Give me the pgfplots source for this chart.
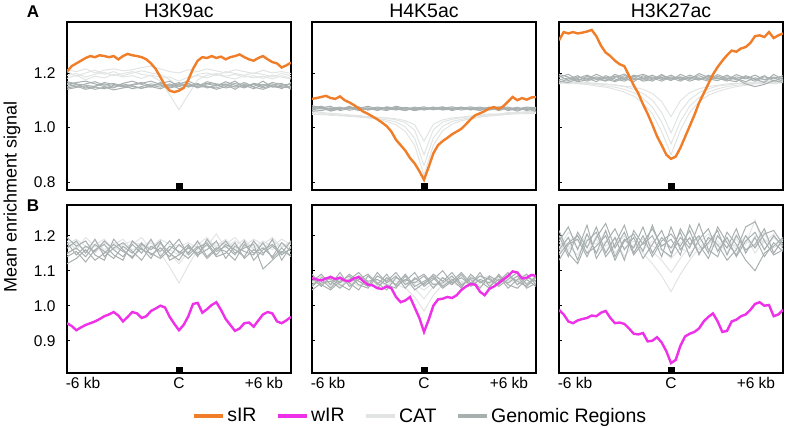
\documentclass[border=0pt]{standalone}
\usepackage{fontspec}
\setmainfont{Liberation Sans}
\usepackage{pgfplots}
\usepackage{pgfplotstable}
\pgfplotsset{compat=1.18}
\definecolor{sirc}{RGB}{240,125,40}
\definecolor{wirc}{RGB}{238,48,232}
\definecolor{catc}{RGB}{226,228,228}
\definecolor{genc}{RGB}{168,176,175}

% H3K9ac, row A
\pgfplotstableread{
x g1 g2 g3 g4 g5 g6 c1 c2 c3 c4
-6 1.150 1.162 1.145 1.158 1.168 1.140 1.190 1.205 1.180 1.212
-5.5 1.158 1.150 1.152 1.165 1.160 1.147 1.198 1.188 1.192 1.205
-5 1.145 1.160 1.140 1.170 1.155 1.152 1.185 1.200 1.175 1.215
-4.5 1.152 1.168 1.148 1.160 1.150 1.140 1.195 1.210 1.188 1.200
-4 1.160 1.155 1.142 1.150 1.165 1.148 1.202 1.195 1.182 1.210
-3.5 1.148 1.162 1.155 1.145 1.158 1.138 1.190 1.205 1.195 1.215
-3 1.155 1.150 1.160 1.162 1.148 1.145 1.198 1.190 1.185 1.208
-2.5 1.142 1.158 1.152 1.170 1.155 1.150 1.205 1.200 1.190 1.212
-2 1.150 1.165 1.145 1.158 1.162 1.143 1.195 1.208 1.180 1.220
-1.5 1.160 1.152 1.150 1.148 1.170 1.155 1.190 1.200 1.192 1.225
-1 1.155 1.160 1.142 1.165 1.158 1.148 1.170 1.195 1.185 1.215
-0.5 1.148 1.170 1.155 1.152 1.145 1.160 1.120 1.175 1.185 1.205
0 1.158 1.150 1.165 1.160 1.152 1.142 1.065 1.150 1.170 1.200
0.5 1.150 1.162 1.148 1.170 1.160 1.155 1.120 1.175 1.185 1.212
1 1.162 1.145 1.158 1.155 1.150 1.148 1.175 1.195 1.190 1.205
1.5 1.145 1.160 1.152 1.162 1.168 1.150 1.192 1.200 1.182 1.215
2 1.155 1.152 1.140 1.158 1.160 1.145 1.198 1.190 1.195 1.208
2.5 1.160 1.168 1.150 1.145 1.155 1.158 1.188 1.205 1.185 1.200
3 1.148 1.155 1.162 1.152 1.170 1.140 1.195 1.198 1.178 1.212
3.5 1.155 1.145 1.150 1.165 1.148 1.160 1.185 1.192 1.190 1.205
4 1.142 1.160 1.158 1.150 1.162 1.148 1.190 1.200 1.182 1.198
4.5 1.158 1.150 1.145 1.170 1.155 1.140 1.180 1.195 1.188 1.210
5 1.150 1.165 1.155 1.148 1.160 1.152 1.192 1.185 1.178 1.200
5.5 1.145 1.158 1.162 1.155 1.142 1.150 1.185 1.198 1.190 1.205
6 1.152 1.148 1.140 1.160 1.165 1.145 1.178 1.190 1.182 1.198
}\tAL

% H4K5ac, row A
\pgfplotstableread{
x g1 g2 g3 g4 g5 g6 c1 c2 c3 c4
-6 1.065 1.075 1.060 1.072 1.080 1.068 1.055 1.050 1.060 1.048
-5.5 1.070 1.068 1.062 1.078 1.072 1.075 1.052 1.046 1.055 1.050
-5 1.062 1.072 1.070 1.066 1.078 1.060 1.048 1.050 1.052 1.044
-4.5 1.072 1.065 1.075 1.070 1.062 1.068 1.045 1.042 1.050 1.046
-4 1.068 1.078 1.063 1.072 1.070 1.074 1.042 1.045 1.046 1.040
-3.5 1.074 1.066 1.070 1.062 1.076 1.068 1.038 1.040 1.044 1.042
-3 1.065 1.072 1.078 1.068 1.064 1.072 1.035 1.036 1.040 1.038
-2.5 1.070 1.064 1.068 1.075 1.072 1.062 1.030 1.032 1.038 1.036
-2 1.072 1.076 1.062 1.070 1.066 1.074 1.022 1.028 1.034 1.035
-1.5 1.066 1.070 1.074 1.064 1.078 1.068 1.010 1.020 1.028 1.032
-1 1.074 1.064 1.068 1.072 1.070 1.062 0.985 1.002 1.018 1.025
-0.5 1.068 1.075 1.065 1.070 1.062 1.072 0.935 0.960 0.990 1.010
0 1.072 1.066 1.070 1.076 1.068 1.064 0.825 0.860 0.900 0.950
0.5 1.065 1.074 1.072 1.066 1.075 1.070 0.935 0.962 0.992 1.012
1 1.070 1.068 1.064 1.074 1.066 1.076 0.988 1.005 1.020 1.028
1.5 1.076 1.072 1.068 1.062 1.070 1.066 1.012 1.022 1.030 1.035
2 1.068 1.064 1.075 1.070 1.074 1.072 1.025 1.030 1.036 1.038
2.5 1.072 1.070 1.066 1.076 1.064 1.068 1.032 1.036 1.040 1.042
3 1.064 1.075 1.070 1.068 1.072 1.062 1.038 1.040 1.044 1.045
3.5 1.070 1.066 1.074 1.064 1.068 1.075 1.042 1.044 1.046 1.050
4 1.074 1.072 1.062 1.070 1.076 1.066 1.045 1.046 1.050 1.048
4.5 1.066 1.068 1.072 1.075 1.062 1.070 1.048 1.050 1.052 1.055
5 1.072 1.074 1.068 1.064 1.070 1.060 1.050 1.054 1.055 1.052
5.5 1.068 1.062 1.075 1.070 1.066 1.072 1.052 1.050 1.058 1.055
6 1.064 1.070 1.072 1.058 1.074 1.068 1.055 1.052 1.060 1.058
}\tAM

% H3K27ac, row A
\pgfplotstableread{
x g1 g2 g3 g4 g5 g6 c1 c2 c3 c4
-6 1.175 1.190 1.165 1.185 1.170 1.195 1.170 1.160 1.175 1.165
-5.5 1.182 1.172 1.178 1.195 1.165 1.185 1.165 1.168 1.170 1.160
-5 1.170 1.185 1.190 1.175 1.180 1.168 1.160 1.162 1.168 1.166
-4.5 1.188 1.178 1.170 1.182 1.192 1.175 1.158 1.160 1.165 1.162
-4 1.176 1.195 1.182 1.168 1.178 1.186 1.152 1.158 1.162 1.160
-3.5 1.185 1.180 1.172 1.190 1.170 1.178 1.148 1.152 1.160 1.158
-3 1.172 1.188 1.195 1.178 1.184 1.168 1.140 1.148 1.155 1.156
-2.5 1.190 1.175 1.180 1.170 1.196 1.182 1.130 1.140 1.150 1.152
-2 1.180 1.192 1.168 1.186 1.175 1.188 1.115 1.128 1.140 1.148
-1.5 1.174 1.182 1.190 1.195 1.180 1.170 1.090 1.108 1.125 1.140
-1 1.186 1.170 1.178 1.182 1.192 1.176 1.050 1.075 1.100 1.125
-0.5 1.178 1.190 1.184 1.170 1.176 1.195 0.985 1.020 1.055 1.095
0 1.192 1.180 1.172 1.186 1.182 1.174 0.900 0.940 0.980 1.040
0.5 1.175 1.186 1.195 1.178 1.170 1.184 0.990 1.022 1.058 1.098
1 1.182 1.176 1.180 1.192 1.186 1.170 1.055 1.078 1.102 1.128
1.5 1.190 1.198 1.174 1.180 1.175 1.182 1.095 1.110 1.128 1.142
2 1.178 1.184 1.188 1.170 1.192 1.176 1.118 1.130 1.142 1.150
2.5 1.172 1.178 1.182 1.188 1.180 1.194 1.132 1.142 1.152 1.155
3 1.186 1.192 1.170 1.176 1.174 1.180 1.142 1.150 1.156 1.160
3.5 1.180 1.174 1.186 1.194 1.168 1.178 1.150 1.155 1.160 1.162
4 1.168 1.186 1.178 1.182 1.190 1.160 1.155 1.158 1.165 1.160
4.5 1.182 1.176 1.192 1.170 1.178 1.150 1.160 1.162 1.166 1.165
5 1.176 1.190 1.175 1.186 1.165 1.158 1.162 1.165 1.170 1.168
5.5 1.185 1.170 1.182 1.178 1.195 1.172 1.165 1.160 1.172 1.170
6 1.178 1.184 1.170 1.190 1.175 1.165 1.168 1.165 1.175 1.172
}\tAR

% H3K9ac, row B
\pgfplotstableread{
x g1 g2 g3 g4 g5 g6 c1 c2 c3 c4
-6 1.150 1.180 1.120 1.165 1.140 1.195 1.165 1.185 1.145 1.175
-5.5 1.165 1.145 1.135 1.185 1.155 1.170 1.180 1.160 1.170 1.190
-5 1.140 1.170 1.160 1.150 1.125 1.185 1.155 1.195 1.165 1.170
-4.5 1.175 1.155 1.130 1.190 1.160 1.145 1.175 1.170 1.185 1.150
-4 1.155 1.185 1.150 1.140 1.175 1.130 1.190 1.150 1.160 1.180
-3.5 1.135 1.160 1.175 1.165 1.145 1.190 1.160 1.180 1.175 1.165
-3 1.170 1.140 1.155 1.180 1.130 1.160 1.175 1.165 1.190 1.155
-2.5 1.150 1.175 1.140 1.155 1.185 1.135 1.185 1.175 1.160 1.180
-2 1.180 1.150 1.165 1.130 1.160 1.175 1.165 1.195 1.170 1.175
-1.5 1.145 1.190 1.135 1.170 1.150 1.160 1.180 1.160 1.185 1.165
-1 1.165 1.140 1.180 1.155 1.135 1.185 1.150 1.175 1.165 1.190
-0.5 1.140 1.170 1.150 1.185 1.160 1.130 1.110 1.150 1.160 1.175
0 1.175 1.155 1.130 1.150 1.190 1.145 1.065 1.120 1.145 1.170
0.5 1.150 1.135 1.170 1.175 1.145 1.165 1.115 1.155 1.165 1.180
1 1.185 1.165 1.145 1.140 1.170 1.150 1.160 1.180 1.175 1.165
1.5 1.140 1.180 1.160 1.190 1.135 1.175 1.185 1.170 1.195 1.160
2 1.165 1.145 1.185 1.155 1.160 1.140 1.170 1.205 1.165 1.180
2.5 1.155 1.175 1.135 1.170 1.185 1.150 1.190 1.165 1.180 1.175
3 1.130 1.160 1.170 1.145 1.150 1.180 1.160 1.185 1.170 1.195
3.5 1.175 1.140 1.155 1.185 1.165 1.135 1.180 1.170 1.190 1.165
4 1.150 1.185 1.145 1.130 1.175 1.160 1.165 1.190 1.160 1.180
4.5 1.165 1.150 1.180 1.160 1.105 1.145 1.185 1.175 1.175 1.165
5 1.140 1.170 1.135 1.175 1.130 1.190 1.170 1.160 1.195 1.185
5.5 1.180 1.145 1.165 1.150 1.155 1.130 1.190 1.180 1.165 1.170
6 1.155 1.165 1.140 1.185 1.145 1.170 1.175 1.165 1.185 1.180
}\tBL

% H4K5ac, row B
\pgfplotstableread{
x g1 g2 g3 g4 g5 g6 c1 c2 c3 c4
-6 1.060 1.080 1.045 1.070 1.090 1.055 1.070 1.055 1.080 1.065
-5.5 1.075 1.055 1.065 1.090 1.060 1.080 1.060 1.075 1.065 1.085
-5 1.050 1.085 1.070 1.060 1.045 1.075 1.080 1.060 1.070 1.055
-4.5 1.080 1.065 1.050 1.095 1.070 1.060 1.065 1.085 1.055 1.075
-4 1.065 1.090 1.075 1.055 1.085 1.045 1.075 1.065 1.080 1.060
-3.5 1.045 1.070 1.095 1.075 1.060 1.085 1.055 1.080 1.070 1.085
-3 1.085 1.055 1.065 1.090 1.050 1.070 1.085 1.060 1.065 1.070
-2.5 1.060 1.095 1.050 1.065 1.085 1.075 1.065 1.075 1.085 1.055
-2 1.090 1.065 1.080 1.045 1.070 1.060 1.075 1.055 1.070 1.080
-1.5 1.055 1.085 1.060 1.080 1.095 1.050 1.060 1.080 1.060 1.070
-1 1.075 1.050 1.090 1.070 1.060 1.085 1.050 1.065 1.075 1.065
-0.5 1.065 1.080 1.055 1.095 1.075 1.045 1.025 1.050 1.060 1.070
0 1.085 1.060 1.070 1.055 1.090 1.065 0.985 1.020 1.045 1.060
0.5 1.050 1.090 1.085 1.075 1.060 1.080 1.030 1.055 1.065 1.075
1 1.080 1.070 1.055 1.100 1.065 1.050 1.060 1.070 1.055 1.080
1.5 1.060 1.095 1.075 1.065 1.085 1.070 1.075 1.060 1.080 1.065
2 1.090 1.060 1.050 1.080 1.055 1.095 1.065 1.085 1.070 1.055
2.5 1.055 1.075 1.090 1.060 1.080 1.065 1.080 1.065 1.060 1.085
3 1.075 1.050 1.065 1.095 1.070 1.085 1.055 1.075 1.085 1.070
3.5 1.065 1.085 1.080 1.055 1.050 1.075 1.070 1.085 1.065 1.060
4 1.085 1.070 1.055 1.075 1.090 1.060 1.085 1.060 1.075 1.080
4.5 1.050 1.095 1.075 1.065 1.060 1.085 1.065 1.080 1.090 1.070
5 1.075 1.060 1.095 1.085 1.050 1.070 1.075 1.070 1.060 1.085
5.5 1.090 1.080 1.060 1.050 1.075 1.055 1.060 1.090 1.080 1.065
6 1.060 1.070 1.085 1.065 1.055 1.080 1.080 1.065 1.070 1.075
}\tBM

% H3K27ac, row B
\pgfplotstableread{
x g1 g2 g3 g4 g5 g6 c1 c2 c3 c4
-6 1.160 1.200 1.130 1.185 1.215 1.145 1.180 1.150 1.200 1.165
-5.5 1.195 1.140 1.175 1.225 1.150 1.180 1.160 1.195 1.170 1.210
-5 1.130 1.210 1.190 1.160 1.120 1.200 1.200 1.165 1.145 1.185
-4.5 1.205 1.165 1.140 1.230 1.185 1.150 1.170 1.205 1.190 1.150
-4 1.150 1.225 1.195 1.135 1.210 1.170 1.190 1.150 1.175 1.200
-3.5 1.215 1.150 1.235 1.180 1.140 1.200 1.155 1.185 1.210 1.170
-3 1.140 1.195 1.165 1.220 1.175 1.130 1.195 1.170 1.150 1.190
-2.5 1.190 1.130 1.210 1.160 1.230 1.185 1.165 1.200 1.185 1.140
-2 1.165 1.215 1.145 1.195 1.150 1.205 1.185 1.155 1.165 1.175
-1.5 1.225 1.175 1.180 1.135 1.200 1.155 1.150 1.180 1.190 1.160
-1 1.150 1.200 1.220 1.175 1.140 1.230 1.120 1.155 1.170 1.185
-0.5 1.195 1.140 1.170 1.215 1.185 1.160 1.085 1.130 1.160 1.175
0 1.165 1.225 1.190 1.150 1.205 1.140 1.040 1.095 1.135 1.165
0.5 1.210 1.160 1.145 1.195 1.170 1.220 1.090 1.135 1.165 1.180
1 1.140 1.195 1.230 1.165 1.215 1.175 1.130 1.170 1.150 1.190
1.5 1.190 1.150 1.175 1.235 1.145 1.200 1.165 1.195 1.180 1.160
2 1.220 1.180 1.135 1.160 1.195 1.150 1.190 1.160 1.205 1.175
2.5 1.155 1.215 1.200 1.140 1.175 1.225 1.160 1.185 1.170 1.200
3 1.195 1.145 1.165 1.210 1.130 1.180 1.185 1.150 1.195 1.165
3.5 1.140 1.200 1.220 1.175 1.160 1.145 1.170 1.205 1.160 1.190
4 1.185 1.160 1.150 1.130 1.225 1.200 1.200 1.175 1.185 1.155
4.5 1.210 1.175 1.195 1.100 1.240 1.165 1.150 1.245 1.170 1.200
5 1.160 1.220 1.140 1.150 1.185 1.205 1.190 1.160 1.210 1.180
5.5 1.200 1.150 1.180 1.170 1.145 1.215 1.165 1.195 1.150 1.205
6 1.170 1.190 1.155 1.195 1.160 1.175 1.185 1.170 1.190 1.160
}\tBR

\pgfplotsset{
  panel/.style={scale only axis, width=224bp, height=168bp,
    xmin=-6, xmax=6, anchor=south west,
    axis line style={line width=1.1bp},
    tick align=inside, ytick pos=left, major tick length=3bp,
    tick style={black, line width=0.8bp},
    xtick style={draw=none},
    tick label style={font=\fontsize{15.5bp}{18bp}\selectfont},
    /pgf/number format/assume math mode=true,
    yticklabel style={xshift=-8bp},
    xticklabel style={yshift=-1bp},
    title style={font=\fontsize{19.5bp}{22bp}\selectfont, at={(0.5,1)}, anchor=base, yshift=-1bp},
    clip=true},
  rowA/.style={ymin=0.7706, ymax=1.387, ytick={0.8,1.0,1.2}, yticklabels={0.8,1.0,1.2}, xtick=\empty},
  rowB/.style={ymin=0.8077, ymax=1.2877, ytick={0.9,1.0,1.1,1.2}, yticklabels={0.9,1.0,1.1,1.2},
    xtick={-5.14,0,4.55}, xticklabels={-6 kb, C, +6 kb}},
  nolab/.style={yticklabels={}},
  gen/.style={color=genc, line width=1.0bp, forget plot},
  cat/.style={color=catc, line width=1.0bp, forget plot},
  sir/.style={color=sirc, line width=2.4bp, forget plot},
  wir/.style={color=wirc, line width=2.4bp, forget plot},
  ctr/.style={only marks, mark=square*, mark size=3.2bp, black, forget plot},
}

\newcommand{\bundle}[1]{%
  \pgfplotsinvokeforeach{1,...,4}{\addplot[cat] table[x=x,y=c##1]{#1};}%
  \pgfplotsinvokeforeach{1,...,6}{\addplot[gen] table[x=x,y=g##1]{#1};}%
}

\begin{document}
\begin{tikzpicture}[x=1bp,y=1bp]
\path[use as bounding box] (0,0) rectangle (785,-427);

% ---------- Row A ----------
\begin{axis}[panel,rowA,at={(67bp,-190bp)},title={H3K9ac}]
\bundle{\tAL}
\addplot[sir] coordinates {
(-6,1.205)(-5.75,1.225)(-5.5,1.235)(-5.25,1.245)(-5,1.255)(-4.75,1.262)(-4.5,1.258)(-4.25,1.265)
(-4,1.262)(-3.75,1.258)(-3.5,1.262)(-3.25,1.25)(-3,1.262)(-2.75,1.27)(-2.5,1.265)(-2.25,1.262)
(-2,1.258)(-1.75,1.25)(-1.5,1.235)(-1.25,1.215)(-1,1.185)(-0.75,1.155)(-0.5,1.135)(-0.25,1.13)
(0,1.135)(0.25,1.145)(0.5,1.175)(0.75,1.215)(1,1.245)(1.25,1.258)(1.5,1.255)(1.75,1.262)
(2,1.255)(2.25,1.26)(2.5,1.25)(2.75,1.258)(3,1.262)(3.25,1.268)(3.5,1.258)(3.75,1.25)
(4,1.245)(4.25,1.255)(4.5,1.262)(4.75,1.25)(5,1.24)(5.25,1.235)(5.5,1.22)(5.75,1.228)(6,1.238)};
\addplot[ctr] coordinates {(0,0.7835)};
\end{axis}

\begin{axis}[panel,rowA,nolab,at={(312bp,-190bp)},title={H4K5ac}]
\bundle{\tAM}
\addplot[sir] coordinates {
(-6,1.105)(-5.75,1.108)(-5.5,1.112)(-5.25,1.116)(-5,1.108)(-4.75,1.105)(-4.5,1.114)(-4.25,1.100)
(-4,1.092)(-3.75,1.082)(-3.5,1.070)(-3.25,1.058)(-3,1.050)(-2.75,1.040)(-2.5,1.030)(-2.25,1.018)
(-2,1.005)(-1.75,0.985)(-1.5,0.955)(-1.25,0.935)(-1,0.915)(-0.75,0.888)(-0.5,0.868)(-0.25,0.840)
(0,0.808)(0.25,0.855)(0.5,0.905)(0.75,0.935)(1,0.950)(1.25,0.962)(1.5,0.975)(1.75,0.985)
(2,0.995)(2.25,1.012)(2.5,1.030)(2.75,1.045)(3,1.052)(3.25,1.060)(3.5,1.070)(3.75,1.075)
(4,1.068)(4.25,1.078)(4.5,1.095)(4.75,1.112)(5,1.100)(5.25,1.108)(5.5,1.102)(5.75,1.110)(6,1.112)};
\addplot[ctr] coordinates {(0,0.7835)};
\end{axis}

\begin{axis}[panel,rowA,nolab,at={(559bp,-190bp)},title={H3K27ac}]
\bundle{\tAR}
\addplot[sir] coordinates {
(-6,1.320)(-5.75,1.350)(-5.5,1.345)(-5.25,1.350)(-5,1.345)(-4.75,1.348)(-4.5,1.352)(-4.25,1.358)
(-4,1.335)(-3.75,1.300)(-3.5,1.275)(-3.25,1.262)(-3,1.245)(-2.75,1.232)(-2.5,1.225)(-2.25,1.190)
(-2,1.155)(-1.75,1.125)(-1.5,1.085)(-1.25,1.050)(-1,1.010)(-0.75,0.968)(-0.5,0.935)(-0.25,0.900)
(0,0.885)(0.25,0.893)(0.5,0.925)(0.75,0.965)(1,1.005)(1.25,1.045)(1.5,1.090)(1.75,1.125)
(2,1.160)(2.25,1.195)(2.5,1.222)(2.75,1.245)(3,1.265)(3.25,1.282)(3.5,1.278)(3.75,1.290)
(4,1.295)(4.25,1.310)(4.5,1.335)(4.75,1.338)(5,1.332)(5.25,1.350)(5.5,1.328)(5.75,1.338)(6,1.345)};
\addplot[ctr] coordinates {(0,0.7835)};
\end{axis}

% ---------- Row B ----------
\begin{axis}[panel,rowB,at={(67bp,-373bp)}]
\bundle{\tBL}
\addplot[wir] coordinates {
(-6,0.950)(-5.75,0.942)(-5.5,0.930)(-5.25,0.938)(-5,0.945)(-4.75,0.950)(-4.5,0.955)(-4.25,0.962)
(-4,0.970)(-3.75,0.975)(-3.5,0.982)(-3.25,0.972)(-3,0.955)(-2.75,0.968)(-2.5,0.982)(-2.25,0.978)
(-2,0.965)(-1.75,0.970)(-1.5,0.985)(-1.25,0.992)(-1,1.000)(-0.75,0.995)(-0.5,0.968)(-0.25,0.948)
(0,0.930)(0.25,0.945)(0.5,0.970)(0.75,1.005)(1,1.008)(1.25,0.980)(1.5,0.990)(1.75,1.002)
(2,1.010)(2.25,0.988)(2.5,0.962)(2.75,0.945)(3,0.928)(3.25,0.935)(3.5,0.950)(3.75,0.952)
(4,0.940)(4.25,0.958)(4.5,0.975)(4.75,0.982)(5,0.978)(5.25,0.955)(5.5,0.950)(5.75,0.958)(6,0.968)};
\addplot[ctr] coordinates {(0,0.8157)};
\end{axis}

\begin{axis}[panel,rowB,nolab,at={(312bp,-373bp)},
  legend columns=4,
  legend style={at={(0.482,-0.256)}, anchor=center, draw=none, fill=none,
    font=\fontsize{19.5bp}{22bp}\selectfont,
    /tikz/every even column/.append style={column sep=17bp},
    /tikz/every odd column/.append style={column sep=0bp}},
  legend image code/.code={\draw[#1, line width=4.5bp] (0bp,0bp) -- (29bp,0bp);}]
\addlegendimage{color=sirc}
\addlegendimage{color=wirc}
\addlegendimage{color=catc}
\addlegendimage{color=genc}
\bundle{\tBM}
\addplot[wir] coordinates {
(-6,1.079)(-5.75,1.075)(-5.5,1.072)(-5.25,1.078)(-5,1.082)(-4.75,1.076)(-4.5,1.080)(-4.25,1.072)
(-4,1.070)(-3.75,1.078)(-3.5,1.082)(-3.25,1.070)(-3,1.060)(-2.75,1.058)(-2.5,1.050)(-2.25,1.048)
(-2,1.055)(-1.75,1.050)(-1.5,1.025)(-1.25,1.010)(-1,1.015)(-0.75,1.025)(-0.5,0.995)(-0.25,0.965)
(0,0.925)(0.25,0.960)(0.5,1.000)(0.75,1.018)(1,1.020)(1.25,1.025)(1.5,1.022)(1.75,1.030)
(2,1.045)(2.25,1.055)(2.5,1.062)(2.75,1.060)(3,1.040)(3.25,1.030)(3.5,1.048)(3.75,1.055)
(4,1.065)(4.25,1.075)(4.5,1.085)(4.75,1.098)(5,1.095)(5.25,1.078)(5.5,1.080)(5.75,1.088)(6,1.085)};
\addplot[ctr] coordinates {(0,0.8157)};
\legend{sIR, wIR, CAT, Genomic Regions}
\end{axis}

\begin{axis}[panel,rowB,nolab,at={(559bp,-373bp)}]
\bundle{\tBR}
\addplot[wir] coordinates {
(-6,0.988)(-5.75,0.975)(-5.5,0.955)(-5.25,0.950)(-5,0.958)(-4.75,0.962)(-4.5,0.965)(-4.25,0.972)
(-4,0.970)(-3.75,0.980)(-3.5,0.985)(-3.25,0.965)(-3,0.950)(-2.75,0.952)(-2.5,0.948)(-2.25,0.935)
(-2,0.920)(-1.75,0.918)(-1.5,0.922)(-1.25,0.898)(-1,0.900)(-0.75,0.910)(-0.5,0.895)(-0.25,0.870)
(0,0.836)(0.25,0.845)(0.5,0.885)(0.75,0.912)(1,0.920)(1.25,0.925)(1.5,0.935)(1.75,0.955)
(2,0.968)(2.25,0.978)(2.5,0.955)(2.75,0.925)(3,0.928)(3.25,0.955)(3.5,0.960)(3.75,0.970)
(4,0.975)(4.25,0.988)(4.5,1.005)(4.75,1.010)(5,1.000)(5.25,1.002)(5.5,0.970)(5.75,0.975)(6,0.988)};
\addplot[ctr] coordinates {(0,0.8157)};
\end{axis}

% ---------- labels ----------
\node[font=\bfseries\fontsize{17bp}{20bp}\selectfont] at (33,-11.5) {A};
\node[font=\bfseries\fontsize{17bp}{20bp}\selectfont] at (33,-206) {B};
\node[rotate=90, font=\fontsize{18bp}{21bp}\selectfont] at (12,-197) {Mean enrichment signal};
\end{tikzpicture}
\end{document}
